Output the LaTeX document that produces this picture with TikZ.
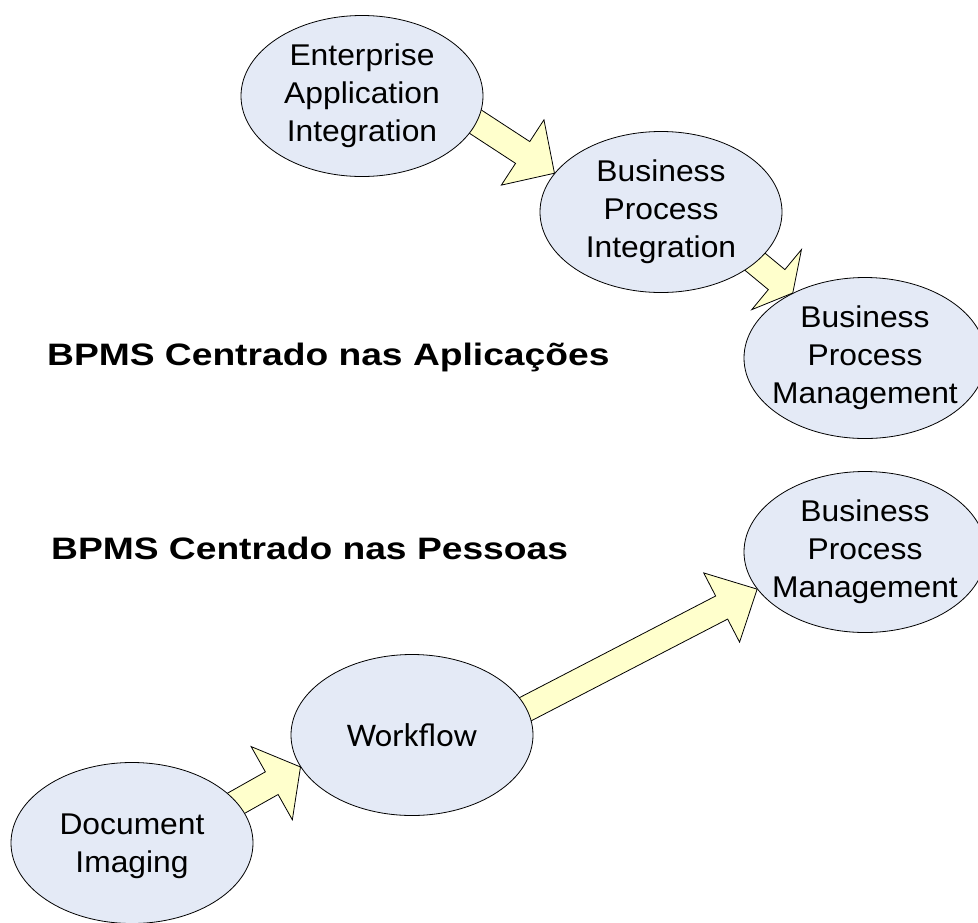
\documentclass[tikz,border=0pt]{standalone}
\usepackage{fontspec}
\setmainfont{Liberation Sans}
\newfontfamily\wfont{Carlito}
\usetikzlibrary{shapes.geometric,calc}

\definecolor{bubblefill}{RGB}{228,234,246}
\definecolor{pointerfill}{RGB}{255,255,204}

\pgfdeclarelayer{back}
\pgfsetlayers{back,main}

% slightly widened, centred block of lines
\newcommand\widetext[1]{\scalebox{1.06}[1]{\begin{tabular}{@{}c@{}}#1\end{tabular}}}

% block arrow: name, tail, tip, head length, head half-width
\newcommand\fatarrow[5]{%
  \coordinate (#1-neck) at ($(#3)!#4!(#2)$);
  \filldraw[pointer]
    ($(#2)!13pt!90:(#3)$) -- ($(#1-neck)!13pt!90:(#3)$) --
    ($(#1-neck)!#5!90:(#3)$) -- (#3) --
    ($(#1-neck)!#5!-90:(#3)$) -- ($(#1-neck)!13pt!-90:(#3)$) --
    ($(#2)!13pt!-90:(#3)$) -- cycle;
}

\tikzset{
  bubble/.style={ellipse, draw=black, fill=bubblefill, line width=0.8pt,
    minimum width=242pt, minimum height=161pt, inner sep=0pt},
  bubbletext/.style={inner sep=0pt, font=\fontsize{30}{38}\selectfont},
  heading/.style={inner sep=0pt, anchor=base west,
    font=\bfseries\fontsize{31}{36}\selectfont},
  pointer/.style={draw=black, fill=pointerfill, line width=0.8pt, line join=miter},
}

\begin{document}
\begin{tikzpicture}[x=1pt,y=-1pt]
\useasboundingbox (0,0) rectangle (978,922);

% ellipses
\node[bubble] (eai) at (362,96) {};
\node[bubble] (bpi) at (661,212) {};
\node[bubble] (bpm1) at (865,358) {};
\node[bubble] (bpm2) at (865,552) {};
\node[bubble] (wf) at (412,735) {};
\node[bubble] (doc) at (132,843) {};

% ellipse labels
\node[bubbletext] (eai-t) at (eai) {\widetext{Enterprise\\Application\\Integration}};
\node[bubbletext] (bpi-t) at (bpi) {\widetext{Business\\Process\\Integration}};
\node[bubbletext] (bpm1-t) at (bpm1) {\widetext{Business\\Process\\Management}};
\node[bubbletext] (bpm2-t) at (bpm2) {\widetext{Business\\Process\\Management}};
\node[inner sep=0pt, font=\wfont\fontsize{33}{40}\selectfont] (wf-t) at (wf) {Workflow};
\node[bubbletext, yshift=-3pt] (doc-t) at (doc) {\widetext{Document\\Imaging}};

% headings
\node[heading] (head1) at (47,365) {\scalebox{1.2}[1]{BPMS Centrado nas Aplicações}};
\node[heading] (head2) at (51,559) {\scalebox{1.2}[1]{BPMS Centrado nas Pessoas}};

% arrows, behind the ellipses
\begin{pgfonlayer}{back}
  \coordinate (a1-tail) at ($(eai.-13)!-14pt!(bpi.160)$);
  \fatarrow{a1}{a1-tail}{bpi.160}{38pt}{39pt}
  \coordinate (a2-tail) at ($(bpi.-28)!-14pt!(bpm1.138)$);
  \fatarrow{a2}{a2-tail}{bpm1.138}{21pt}{39pt}
  \coordinate (a3-tail) at ($(doc.21)!-14pt!(wf.196)$);
  \fatarrow{a3}{a3-tail}{wf.196}{33pt}{42pt}
  \coordinate (a4-tail) at ($(wf.13)!-14pt!(bpm2.199)$);
  \fatarrow{a4}{a4-tail}{bpm2.199}{40pt}{39pt}
\end{pgfonlayer}
\end{tikzpicture}
\end{document}
